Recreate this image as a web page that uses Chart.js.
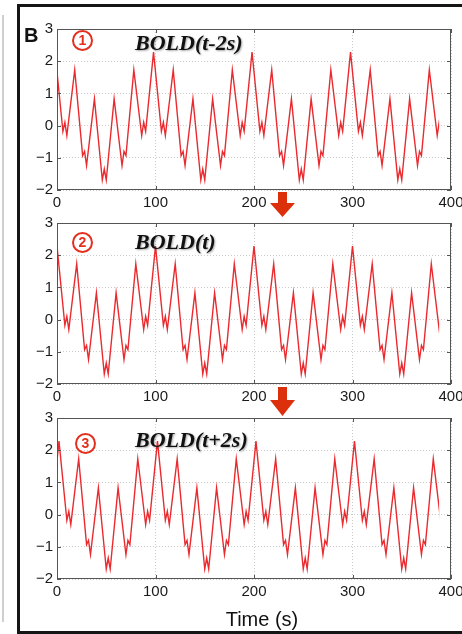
<!DOCTYPE html>
<html>
<head>
<meta charset="utf-8">
<script src="https://cdn.jsdelivr.net/npm/chart.js@4.4.0/dist/chart.umd.min.js"></script>
<style>
  html, body { margin: 0; padding: 0; background: #fff; }
  #fig { position: relative; width: 462px; height: 634px; overflow: hidden; background: #fff;
         font-family: "Liberation Sans", Arial, sans-serif; }
  #fig canvas, #fig svg { position: absolute; left: 0; top: 0; }
  .edge { position: absolute; left: 2px; top: 15px; width: 2px; height: 607px; background: #cfcfcf; }
  .frame { position: absolute; left: 17px; top: 4px; width: 470px; height: 624px; border: 3px solid #151515; }
  .letter { position: absolute; left: 24px; top: 25px; font-weight: bold; font-size: 20px; line-height: 1; color: #111; }
  .num { position: absolute; width: 17px; height: 17px; border: 2px solid #e3301e; border-radius: 50%;
         color: #e3301e; font-weight: bold; font-size: 14px; line-height: 17px; text-align: center; }
  .lbl { position: absolute; left: 135px; font-family: "Liberation Serif", "Times New Roman", serif;
         font-style: italic; font-weight: bold; font-size: 22px; line-height: 1; color: #111;
         text-shadow: 1px 1px 2px rgba(0,0,0,0.35); white-space: nowrap; }
  .xtitle { position: absolute; left: 200px; top: 609px; width: 124px; text-align: center;
            font-size: 20px; line-height: 1; color: #111; }
</style>
</head>
<body>
<div id="fig">
  <div class="edge"></div>
  <div class="frame"></div>
  <svg width="462" height="634">
    <polygon points="278,192 287,192 287,203 295,203 282.5,217 270,203 278,203" fill="#dc2f0b"/>
    <polygon points="278,387 287,387 287,400 295,400 282.5,416 270,400 278,400" fill="#dc2f0b"/>
  </svg>
  <canvas id="p1" width="462" height="634"></canvas>
  <canvas id="p2" width="462" height="634"></canvas>
  <canvas id="p3" width="462" height="634"></canvas>
  <div class="letter">B</div>
  <div class="num" style="left:72px; top:30px;">1</div>
  <div class="num" style="left:72px; top:232px;">2</div>
  <div class="num" style="left:75px; top:433px;">3</div>
  <div class="lbl" style="top:32px;">BOLD(t-2s)</div>
  <div class="lbl" style="top:231px;">BOLD(t)</div>
  <div class="lbl" style="top:429px;">BOLD(t+2s)</div>
  <div class="xtitle">Time (s)</div>
</div>
<script>
// BOLD(t) signal: corner points of the trace (time in s, amplitude)
const boldTime = [
  -8, 0, 8, 10, 12, 20, 28, 30, 32, 40, 48, 50, 52, 60, 68, 70, 72, 80, 88, 90, 92,
  100, 108, 110, 112, 120, 128, 130, 132, 140, 148, 150, 152, 160, 168, 170, 172, 180, 188, 190, 192,
  200, 208, 210, 212, 220, 228, 230, 232, 240, 248, 250, 252, 260, 268, 270, 272, 280, 288, 290, 292,
  300, 308, 310, 312, 320, 328, 330, 332, 340, 348, 350, 352, 360, 368, 370, 372, 380, 388, 390, 392
];
const boldValue = [
  -0.18,
  2.28, -0.18, 0.10, -0.31, 1.73, -0.93, -0.80, -1.24, 0.83, -1.69, -1.35, -1.69, 0.83, -1.24, -0.80, -0.93, 1.73, -0.31, 0.10, -0.18,
  2.28, -0.18, 0.10, -0.31, 1.73, -0.93, -0.80, -1.24, 0.83, -1.69, -1.35, -1.69, 0.83, -1.24, -0.80, -0.93, 1.73, -0.31, 0.10, -0.18,
  2.28, -0.18, 0.10, -0.31, 1.73, -0.93, -0.80, -1.24, 0.83, -1.69, -1.35, -1.69, 0.83, -1.24, -0.80, -0.93, 1.73, -0.31, 0.10, -0.18,
  2.28, -0.18, 0.10, -0.31, 1.73, -0.93, -0.80, -1.24, 0.83, -1.69, -1.35, -1.69, 0.83, -1.24, -0.80, -0.93, 1.73, -0.31, 0.10, -0.18
];
// time shift of each panel (s)
const shifts = [-2, 0, 2];
// recording stops here (s)
const recordEnd = 388;

const xTicks = [0, 100, 200, 300, 400];
const yTicks = [-2, -1, 0, 1, 2, 3];

const lineColor = '#ea2a2e';
const tickFont = { family: '"Liberation Sans", Arial, sans-serif', size: 15 };

// matlab-style box with inward ticks, trace cut at the end of the recording
const axesBox = {
  id: 'axesBox',
  beforeDatasetsDraw(chart) {
    const { ctx, chartArea: a, scales: { x } } = chart;
    ctx.save();
    ctx.beginPath();
    ctx.rect(a.left, a.top - 5, x.getPixelForValue(recordEnd) - a.left, a.bottom - a.top + 10);
    ctx.clip();
  },
  afterDatasetsDraw(chart) {
    chart.ctx.restore();
  },
  afterDraw(chart) {
    const { ctx, chartArea: a, scales: { x, y } } = chart;
    ctx.save();
    ctx.strokeStyle = '#555';
    ctx.lineWidth = 1;
    ctx.strokeRect(a.left + 0.5, a.top + 0.5, a.right - a.left - 1, a.bottom - a.top - 1);
    ctx.beginPath();
    xTicks.forEach(v => {
      const px = Math.round(x.getPixelForValue(v)) + 0.5;
      ctx.moveTo(px, a.bottom); ctx.lineTo(px, a.bottom - 4);
      ctx.moveTo(px, a.top); ctx.lineTo(px, a.top + 4);
    });
    yTicks.forEach(v => {
      const py = Math.round(y.getPixelForValue(v)) + 0.5;
      ctx.moveTo(a.left, py); ctx.lineTo(a.left + 4, py);
      ctx.moveTo(a.right, py); ctx.lineTo(a.right - 4, py);
    });
    ctx.stroke();
    ctx.restore();
  }
};

function makePanel(id, shift, top, bottom) {
  const pts = boldTime.map((t, i) => ({ x: t + shift, y: boldValue[i] }));
  return new Chart(document.getElementById(id), {
    type: 'line',
    data: {
      datasets: [{
        data: pts,
        borderColor: lineColor,
        borderWidth: 1.4,
        pointRadius: 0,
        tension: 0,
        fill: false
      }]
    },
    options: {
      responsive: false,
      animation: false,
      events: [],
      layout: { padding: { left: 0, right: 11, top: top, bottom: 634 - bottom - 20 } },
      plugins: { legend: { display: false }, tooltip: { enabled: false } },
      scales: {
        x: {
          type: 'linear', min: 0, max: 400,
          afterBuildTicks: s => { s.ticks = xTicks.map(v => ({ value: v })); },
          ticks: { padding: 4, maxRotation: 0, autoSkip: false, color: '#1a1a1a', font: tickFont },
          grid: { color: '#cccccc', drawTicks: false },
          border: { display: false, dash: [1, 2] },
          afterFit: s => { s.height = 20; s.paddingLeft = 0; s.paddingRight = 0; }
        },
        y: {
          type: 'linear', min: -2, max: 3,
          afterBuildTicks: s => { s.ticks = yTicks.map(v => ({ value: v })); },
          ticks: {
            padding: 4, color: '#1a1a1a', font: tickFont,
            callback: v => (v < 0 ? '\u2212' + Math.abs(v) : String(v))
          },
          grid: { color: '#cccccc', drawTicks: false },
          border: { display: false, dash: [1, 2] },
          afterFit: s => { s.width = 57; s.paddingTop = 0; s.paddingBottom = 0; }
        }
      }
    },
    plugins: [axesBox]
  });
}

makePanel('p1', shifts[0], 29, 190);
makePanel('p2', shifts[1], 223, 384);
makePanel('p3', shifts[2], 418, 579);
</script>
</body>
</html>
